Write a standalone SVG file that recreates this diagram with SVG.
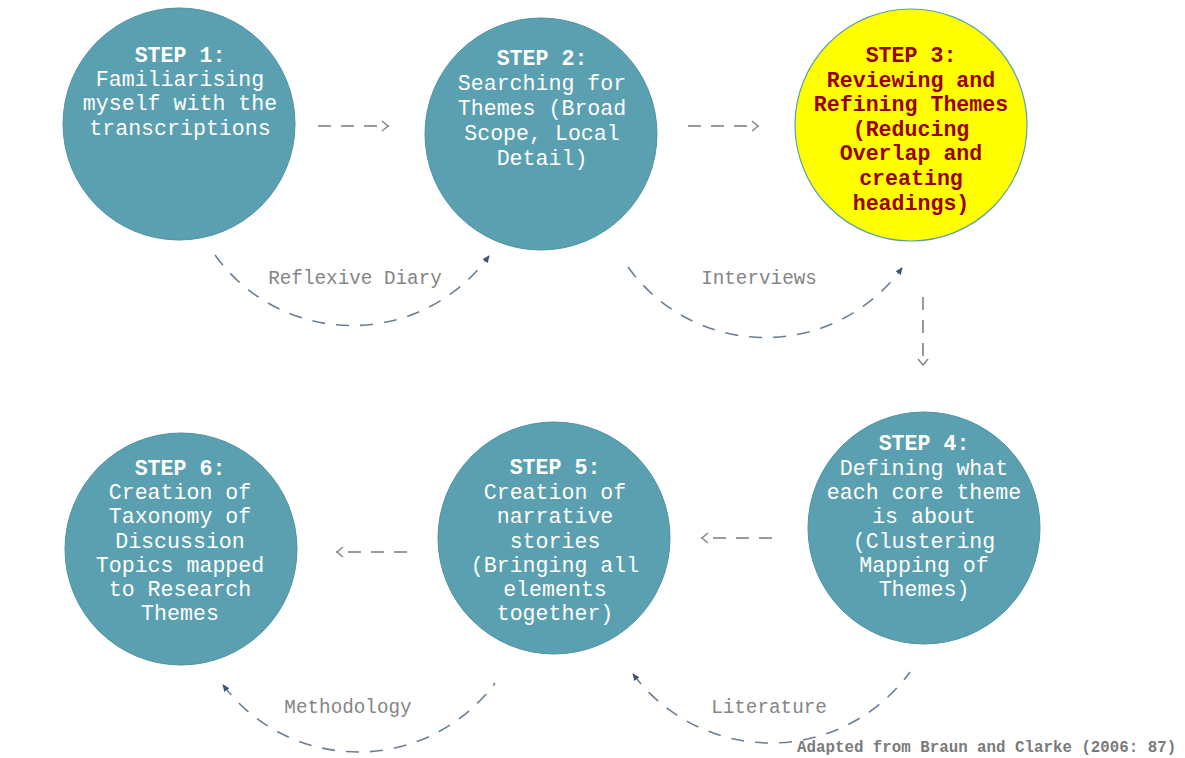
<svg xmlns="http://www.w3.org/2000/svg" width="1185" height="758" viewBox="0 0 1185 758">
  <style>
    .node { fill: #5aa0b0; stroke: #4f93a4; stroke-width: 1; }
    .hl { fill: #ffff00; stroke: #5aa0b0; stroke-width: 1.2; }
    .t { font-family: "Liberation Mono", "Courier New", monospace; font-size: 21.6px; text-anchor: middle; fill: #ffffff; }
    .t .s { font-weight: bold; }
    .t3 { font-family: "Liberation Mono", "Courier New", monospace; font-size: 21.6px; text-anchor: middle; fill: #990000; font-weight: bold; }
    .flow { fill: none; stroke: #9a9a9a; stroke-width: 2; stroke-dasharray: 13 10; }
    .loop { fill: none; stroke: #6a7f96; stroke-width: 1.6; stroke-dasharray: 13 11; }
    .lbl { font-family: "Liberation Mono", "Courier New", monospace; font-size: 19.3px; text-anchor: middle; fill: #858585; }
    .note { font-family: "Liberation Mono", "Courier New", monospace; font-size: 15.8px; font-weight: bold; fill: #7a7a7a; }
  </style>
  <defs>
    <marker id="chev" viewBox="0 0 10 12" refX="9" refY="6" markerWidth="10" markerHeight="12" markerUnits="userSpaceOnUse" orient="auto">
      <path d="M2,1 L8,6 L2,11" fill="none" stroke="#8a8a8a" stroke-width="1.6"/>
    </marker>
    <marker id="tip" viewBox="0 0 10 10" refX="8" refY="5" markerWidth="8" markerHeight="8" markerUnits="userSpaceOnUse" orient="auto">
      <path d="M0,1 L9,5 L0,9 Z" fill="#3d5573"/>
    </marker>
    <marker id="tipStart" viewBox="0 0 10 10" refX="2" refY="5" markerWidth="8" markerHeight="8" markerUnits="userSpaceOnUse" orient="auto">
      <path d="M10,1 L1,5 L10,9 Z" fill="#3d5573"/>
    </marker>
  </defs>

  <rect width="1185" height="758" fill="#ffffff"/>

  <!-- step nodes -->
  <g id="step1">
    <circle class="node" cx="179" cy="124" r="116"/>
    <text class="t"><tspan class="s" x="180" y="62">STEP 1:</tspan><tspan x="180" y="86">Familiarising</tspan><tspan x="180" y="110">myself with the</tspan><tspan x="180" y="135">transcriptions</tspan></text>
  </g>
  <g id="step2">
    <circle class="node" cx="541" cy="134" r="116"/>
    <text class="t"><tspan class="s" x="542" y="65">STEP 2:</tspan><tspan x="542" y="90">Searching for</tspan><tspan x="542" y="115">Themes (Broad</tspan><tspan x="542" y="140">Scope, Local</tspan><tspan x="542" y="165">Detail)</tspan></text>
  </g>
  <g id="step3">
    <circle class="hl" cx="911" cy="125" r="116"/>
    <text class="t3"><tspan x="911" y="62">STEP 3:</tspan><tspan x="911" y="87">Reviewing and</tspan><tspan x="911" y="111">Refining Themes</tspan><tspan x="911" y="136">(Reducing</tspan><tspan x="911" y="160">Overlap and</tspan><tspan x="911" y="185">creating</tspan><tspan x="911" y="210">headings)</tspan></text>
  </g>
  <g id="step4">
    <circle class="node" cx="924" cy="528" r="116"/>
    <text class="t"><tspan class="s" x="924" y="450">STEP 4:</tspan><tspan x="924" y="475">Defining what</tspan><tspan x="924" y="499">each core theme</tspan><tspan x="924" y="523">is about</tspan><tspan x="924" y="548">(Clustering</tspan><tspan x="924" y="572">Mapping of</tspan><tspan x="924" y="596">Themes)</tspan></text>
  </g>
  <g id="step5">
    <circle class="node" cx="554" cy="538" r="116"/>
    <text class="t"><tspan class="s" x="555" y="474">STEP 5:</tspan><tspan x="555" y="499">Creation of</tspan><tspan x="555" y="523">narrative</tspan><tspan x="555" y="548">stories</tspan><tspan x="555" y="572">(Bringing all</tspan><tspan x="555" y="596">elements</tspan><tspan x="555" y="620">together)</tspan></text>
  </g>
  <g id="step6">
    <circle class="node" cx="181" cy="549" r="116"/>
    <text class="t"><tspan class="s" x="180" y="475">STEP 6:</tspan><tspan x="180" y="499">Creation of</tspan><tspan x="180" y="523">Taxonomy of</tspan><tspan x="180" y="548">Discussion</tspan><tspan x="180" y="572">Topics mapped</tspan><tspan x="180" y="596">to Research</tspan><tspan x="180" y="620">Themes</tspan></text>
  </g>

  <!-- connectors -->
  <g id="connectors">
    <path class="flow" d="M318,126 L389,126" marker-end="url(#chev)"/>
    <path class="flow" d="M688,126 L759,126" marker-end="url(#chev)"/>
    <path class="flow" d="M923,297 L923,366" marker-end="url(#chev)"/>
    <path class="flow" d="M772,538 L701,538" marker-end="url(#chev)"/>
    <path class="flow" d="M407,552 L336,552" marker-end="url(#chev)"/>

    <path class="loop" d="M215,255 A169,169 0 0 0 489,256" marker-end="url(#tip)"/>
    <path class="loop" d="M628,267 A169,169 0 0 0 902,268" marker-end="url(#tip)"/>
    <path class="loop" d="M223,685 A170,170 0 0 0 495,683" marker-start="url(#tipStart)"/>
    <path class="loop" d="M633,674 A172,172 0 0 0 910,672" marker-start="url(#tipStart)"/>
  </g>

  <!-- loop labels and source note -->
  <g id="labels">
    <text class="lbl" x="355" y="284">Reflexive Diary</text>
    <text class="lbl" x="759" y="284">Interviews</text>
    <text class="lbl" x="348" y="713">Methodology</text>
    <text class="lbl" x="769" y="713">Literature</text>
    <text class="note" x="797" y="752">Adapted from Braun and Clarke (2006: 87)</text>
  </g>
</svg>
